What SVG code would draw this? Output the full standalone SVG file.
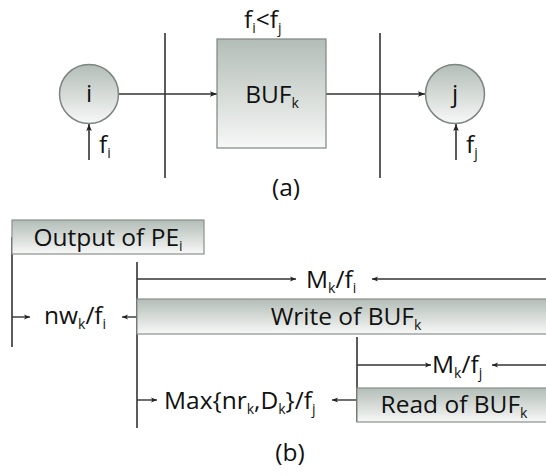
<svg xmlns="http://www.w3.org/2000/svg" width="546" height="476" viewBox="0 0 546 476">
<defs>
  <linearGradient id="g" x1="0" y1="0" x2="0" y2="1">
    <stop offset="0" stop-color="#b3bdb7"/>
    <stop offset="1" stop-color="#f7f8f7"/>
  </linearGradient>
  <marker id="ah" viewBox="0 0 10 10" refX="10" refY="5" markerWidth="7" markerHeight="7" markerUnits="userSpaceOnUse" orient="auto">
    <path d="M0,1 L10,5 L0,9 L2,5 Z" fill="#222"/>
  </marker>
  <marker id="sh" viewBox="0 0 10 10" refX="10" refY="5" markerWidth="6" markerHeight="6" markerUnits="userSpaceOnUse" orient="auto">
    <path d="M0,1 L10,5 L0,9 L2.5,5 Z" fill="#222"/>
  </marker>
</defs>
<style>
  text { font-family: "Open Sans", "Lato", sans-serif; font-size: 24.5px; fill: #111; }
  .sub { font-size: 14px; }
  .node { fill: url(#g); stroke: #7d8580; stroke-width: 1.5; }
  .bar { fill: url(#g); stroke: #8a8f8c; stroke-width: 1.2; }
  .ln { stroke: #333; stroke-width: 1.6; fill: none; }
  .arr { stroke: #333; stroke-width: 1.6; fill: none; marker-end: url(#ah); }
  .sarr { stroke: #333; stroke-width: 1.4; fill: none; marker-end: url(#sh); }
</style>

<g id="connectors">
  <!-- (a) -->
  <line class="ln" x1="165" y1="33" x2="165" y2="178"/>
  <line class="ln" x1="380" y1="33" x2="380" y2="178"/>
  <line class="arr" x1="119" y1="94" x2="217" y2="94"/>
  <line class="arr" x1="326" y1="94" x2="425" y2="94"/>
  <line class="arr" x1="89" y1="160" x2="89" y2="124"/>
  <line class="arr" x1="456" y1="160" x2="456" y2="124"/>
  <!-- (b) -->
  <line class="ln" x1="12" y1="237" x2="12" y2="347"/>
  <line class="ln" x1="137" y1="262" x2="137" y2="428"/>
  <line class="ln" x1="357" y1="337" x2="357" y2="422"/>
  <line class="sarr" x1="12" y1="317" x2="30" y2="317"/>
  <line class="sarr" x1="137" y1="317" x2="122" y2="317"/>
  <line class="sarr" x1="137" y1="279" x2="296" y2="279"/>
  <line class="sarr" x1="546" y1="279" x2="372" y2="279"/>
  <line class="sarr" x1="357" y1="365" x2="431" y2="365"/>
  <line class="sarr" x1="546" y1="365" x2="492" y2="365"/>
  <line class="sarr" x1="137" y1="400" x2="157" y2="400"/>
  <line class="sarr" x1="357" y1="400" x2="332" y2="400"/>
</g>

<g id="node-i">
  <circle class="node" cx="89" cy="94" r="29.5"/>
  <text x="89" y="102" text-anchor="middle">i</text>
</g>
<g id="node-j">
  <circle class="node" cx="455" cy="94" r="29.5"/>
  <text x="455" y="102" text-anchor="middle">j</text>
</g>
<g id="node-buf">
  <rect class="node" x="217" y="39" width="109" height="109" style="stroke-width:1.2"/>
  <text x="272" y="103" text-anchor="middle">BUF<tspan class="sub" dy="5">k</tspan></text>
</g>
<g id="label-fi">
  <text x="99" y="153">f<tspan class="sub" dy="5">i</tspan></text>
</g>
<g id="label-fj">
  <text x="466" y="153">f<tspan class="sub" dy="5">j</tspan></text>
</g>
<g id="label-cond">
  <text x="244" y="28">f<tspan class="sub" dy="5">i</tspan><tspan dy="-5">&lt;f</tspan><tspan class="sub" dy="5">j</tspan></text>
</g>
<g id="caption-a">
  <text x="286" y="196" text-anchor="middle">(a)</text>
</g>

<g id="bar-output">
  <rect class="bar" x="12" y="220" width="192" height="34"/>
  <text x="108" y="246" text-anchor="middle">Output of PE<tspan class="sub" dy="5">i</tspan></text>
</g>
<g id="bar-write">
  <rect class="bar" x="137" y="299" width="412" height="35"/>
  <text x="346" y="325" text-anchor="middle">Write of BUF<tspan class="sub" dy="5">k</tspan></text>
</g>
<g id="bar-read">
  <rect class="bar" x="357" y="388" width="192" height="34"/>
  <text x="454" y="413" text-anchor="middle">Read of BUF<tspan class="sub" dy="5">k</tspan></text>
</g>
<g id="label-nw">
  <text x="44" y="324">nw<tspan class="sub" dy="5">k</tspan><tspan dy="-5">/f</tspan><tspan class="sub" dy="5">i</tspan></text>
</g>
<g id="label-mfi">
  <text x="306" y="288">M<tspan class="sub" dy="5">k</tspan><tspan dy="-5">/f</tspan><tspan class="sub" dy="5">i</tspan></text>
</g>
<g id="label-mfj">
  <text x="432" y="373">M<tspan class="sub" dy="5">k</tspan><tspan dy="-5">/f</tspan><tspan class="sub" dy="5">j</tspan></text>
</g>
<g id="label-max">
  <text x="164" y="409">Max{nr<tspan class="sub" dy="5">k</tspan><tspan dy="-5">,D</tspan><tspan class="sub" dy="5">k</tspan><tspan dy="-5">}/f</tspan><tspan class="sub" dy="5">j</tspan></text>
</g>
<g id="caption-b">
  <text x="290" y="461" text-anchor="middle">(b)</text>
</g>
</svg>
